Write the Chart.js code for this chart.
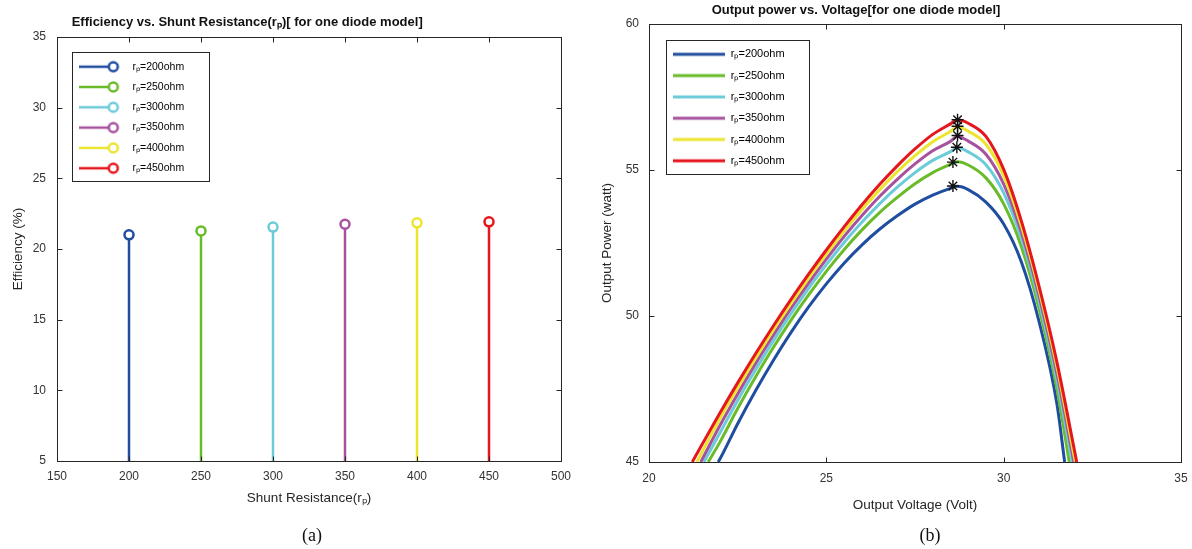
<!DOCTYPE html>
<html><head><meta charset="utf-8">
<script src="https://cdn.jsdelivr.net/npm/chart.js@4/dist/chart.umd.min.js"></script>
<style>
html,body{margin:0;padding:0;background:#fff;}
#wrap{position:relative;width:1192px;height:549px;overflow:hidden;background:#fff;}
.box{position:absolute;top:0;height:549px;width:596px;}
#boxA{left:0;}
#boxB{left:596px;}
.cap{position:absolute;top:524px;line-height:22px;font-family:"Liberation Serif","Times New Roman",serif;font-size:18px;color:#111;transform:translateX(-50%);}
</style></head>
<body><div id="wrap">
<div class="box" id="boxA"><canvas id="cA"></canvas></div>
<div class="box" id="boxB"><canvas id="cB"></canvas></div>
<div class="cap" style="left:312px">(a)</div>
<div class="cap" style="left:930px">(b)</div>
</div>
<script>
// ---------- data ----------
const seriesLabels = ['rₚ=200ohm','rₚ=250ohm','rₚ=300ohm','rₚ=350ohm','rₚ=400ohm','rₚ=450ohm'];
const seriesColors = ['#1f4d9f','#6abb2a','#6ccbd9','#a6529f','#ece530','#e5171d'];

// (a) efficiency stems
const shuntR = [200, 250, 300, 350, 400, 450];
const efficiency = [21.0, 21.28, 21.55, 21.75, 21.85, 21.92];
const stemBase = 5;
const xTicksA = [150, 200, 250, 300, 350, 400, 450, 500];
const yTicksA = [5, 10, 15, 20, 25, 30, 35];

// (b) P-V curves
const volts = [22, 22.5, 23, 23.5, 24, 24.5, 25, 25.5, 26, 26.5, 27, 27.5, 28, 28.5, 28.7, 29, 29.5, 30, 30.5, 31, 31.5];
const p200 = [45.10, 46.31, 47.43, 48.47, 49.43, 50.31, 51.10, 51.81, 52.43, 52.97, 53.43, 53.83, 54.14, 54.37, 54.44, 54.33, 53.90, 53.15, 51.85, 49.80, 47.00];
const p250 = [45.68, 46.83, 47.90, 48.91, 49.85, 50.72, 51.53, 52.27, 52.94, 53.54, 54.06, 54.53, 54.91, 55.19, 55.28, 55.17, 54.73, 53.84, 52.37, 50.25, 47.53];
const p300 = [46.00, 47.11, 48.15, 49.14, 50.07, 50.95, 51.76, 52.52, 53.21, 53.84, 54.41, 54.91, 55.33, 55.63, 55.77, 55.62, 55.18, 54.22, 52.65, 50.49, 47.82];
const p350 = [46.25, 47.33, 48.36, 49.33, 50.26, 51.13, 51.95, 52.72, 53.43, 54.09, 54.68, 55.21, 55.66, 55.98, 56.15, 55.99, 55.54, 54.52, 52.87, 50.68, 48.04];
const p400 = [46.49, 47.54, 48.55, 49.51, 50.42, 51.30, 52.12, 52.90, 53.64, 54.32, 54.94, 55.49, 55.97, 56.32, 56.48, 56.33, 55.88, 54.80, 53.08, 50.87, 48.26];
const p450 = [46.68, 47.71, 48.70, 49.65, 50.56, 51.43, 52.26, 53.05, 53.80, 54.50, 55.14, 55.72, 56.22, 56.58, 56.72, 56.60, 56.15, 55.02, 53.25, 51.01, 48.43];
const powerSeries = [p200, p250, p300, p350, p400, p450];
const startV = [21.95, 21.67, 21.55, 21.46, 21.35, 21.22];
const endV = [31.72, 31.85, 31.93, 31.98, 32.02, 32.06];
const edgeP = 45;
const peakV = [28.57, 28.57, 28.68, 28.7, 28.7, 28.7];
const peakP = [54.45, 55.27, 55.78, 56.18, 56.5, 56.72];
const xTicksB = [20, 25, 30, 35];
const yTicksB = [45, 50, 55, 60];

// ---------- helpers ----------
const FONT = "'Liberation Sans', Arial, Helvetica, sans-serif";
const AX = '#262626';

function stemIcon(color) {
  const c = document.createElement('canvas'); c.width = 48; c.height = 14;
  const g = c.getContext('2d');
  g.strokeStyle = color; g.lineWidth = 2.5;
  g.beginPath(); g.moveTo(0, 7); g.lineTo(30, 7); g.stroke();
  g.beginPath(); g.arc(34, 7, 4.5, 0, Math.PI * 2); g.fillStyle = '#fff'; g.fill(); g.stroke();
  return c;
}
function lineIcon(color) {
  const c = document.createElement('canvas'); c.width = 52; c.height = 6;
  const g = c.getContext('2d');
  g.strokeStyle = color; g.lineWidth = 3;
  g.beginPath(); g.moveTo(0, 3); g.lineTo(52, 3); g.stroke();
  return c;
}

const framePlugin = {
  id: 'matlabFrame',
  afterDatasetsDraw(chart) {
    const {ctx, chartArea: a, scales} = chart;
    ctx.save();
    ctx.strokeStyle = AX; ctx.lineWidth = 1;
    const L = Math.round(a.left) + 0.5, T = Math.round(a.top) + 0.5, R = Math.round(a.right) + 0.5, B = Math.round(a.bottom) + 0.5;
    ctx.strokeRect(L, T, R - L, B - T);
    const tl = 5;
    ctx.beginPath();
    scales.x.ticks.forEach(t => {
      const px = Math.round(scales.x.getPixelForValue(t.value)) + 0.5;
      ctx.moveTo(px, B); ctx.lineTo(px, B - tl);
      ctx.moveTo(px, T); ctx.lineTo(px, T + tl);
    });
    scales.y.ticks.forEach(t => {
      const py = Math.round(scales.y.getPixelForValue(t.value)) + 0.5;
      ctx.moveTo(L, py); ctx.lineTo(L + tl, py);
      ctx.moveTo(R, py); ctx.lineTo(R - tl, py);
    });
    ctx.stroke();
    ctx.restore();
  }
};

const placePlugin = {
  id: 'place',
  afterLayout(chart, args, o) {
    const lg = chart.legend, a = chart.chartArea;
    if (lg) {
      const dx = a.left + o.dx - lg.left, dy = a.top + o.dy - lg.top;
      lg.left += dx; lg.right += dx; lg.top += dy; lg.bottom += dy;
    }
    const tb = chart.titleBlock;
    if (tb && o.titleX != null) { const d = o.titleX - tb.left; tb.left += d; tb.right += d; }
  },
  afterDraw(chart, args, o) {
    const lg = chart.legend; if (!lg) return;
    const ctx = chart.ctx;
    const P = o.pad, fs = o.fs, bw = o.bw;
    const n = lg.legendItems.length;
    ctx.save();
    ctx.font = fs + 'px ' + FONT;
    let tw = 0; lg.legendItems.forEach(it => { tw = Math.max(tw, ctx.measureText(it.text).width); });
    const x0 = lg.left + P - o.padL;
    const c0 = lg.top + P + fs / 2;
    const cN = c0 + (n - 1) * (fs + P);
    const y0 = c0 - o.padT, y1 = cN + o.padB;
    const x1 = lg.left + P + bw + fs / 2 + tw + o.padR;
    ctx.strokeStyle = AX; ctx.lineWidth = 1;
    ctx.strokeRect(Math.round(x0) + 0.5, Math.round(y0) + 0.5, Math.round(x1 - x0), Math.round(y1 - y0));
    ctx.restore();
  }
};

function axis(ticksArr, min, max, extra) {
  return Object.assign({
    type: 'linear', min, max,
    afterBuildTicks: s => { s.ticks = ticksArr.map(v => ({value: v})); },
    grid: {display: false, drawTicks: false},
    border: {display: false},
    ticks: {color: '#333', font: {family: FONT, size: 12}, maxRotation: 0, autoSkip: false}
  }, extra);
}

// ---------- chart (a) ----------
const iconsA = seriesColors.map(stemIcon);
new Chart(document.getElementById('cA'), {
  type: 'scatter',
  data: {
    datasets: shuntR.map((r, i) => ({
      label: seriesLabels[i],
      data: [{x: r, y: stemBase}, {x: r, y: efficiency[i]}],
      showLine: true,
      borderColor: seriesColors[i], borderWidth: 2.5,
      pointRadius: [0, 4.5], pointBorderWidth: 2.5,
      pointBackgroundColor: '#fff', pointBorderColor: seriesColors[i],
      pointStyle: 'circle'
    }))
  },
  options: {
    responsive: true, maintainAspectRatio: false, animation: false, events: [],
    layout: {padding: {left: 0, right: 35, top: 0, bottom: 0}},
    scales: {
      x: axis(xTicksA, 150, 500, {
        afterFit: s => { s.height = 88; s.paddingLeft = 0; s.paddingRight = 0; },
        ticks: {padding: 8, color: '#333', font: {family: FONT, size: 12}, maxRotation: 0, autoSkip: false},
        title: {display: true, text: 'Shunt Resistance(rₚ)', color: '#262626', font: {family: FONT, size: 13.5}, padding: {top: 0, bottom: 42.9}}
      }),
      y: axis(yTicksA, 5, 35, {
        afterFit: s => { s.width = 57; },
        ticks: {padding: 11, color: '#333', font: {family: FONT, size: 12}, autoSkip: false},
        title: {display: true, text: 'Efficiency (%)', color: '#262626', font: {family: FONT, size: 13.5}, padding: {top: 9.9, bottom: 0}}
      })
    },
    plugins: {
      title: {display: true, text: 'Efficiency vs. Shunt Resistance(rₚ)[ for one diode model]', align: 'start', color: '#111',
        font: {family: FONT, size: 13, weight: 'bold'}, padding: {top: 14.7, bottom: 6.7}},
      legend: {
        position: 'chartArea', align: 'start',
        labels: {
          usePointStyle: true, pointStyleWidth: 48, padding: 9.8, color: '#1a1a1a',
          font: {family: FONT, size: 10.5},
          generateLabels: chart => chart.data.datasets.map((ds, i) => ({
            text: ds.label, pointStyle: iconsA[i], fillStyle: ds.borderColor, strokeStyle: ds.borderColor,
            lineWidth: 0, hidden: false, datasetIndex: i
          }))
        }
      },
      tooltip: {enabled: false},
      place: {dx: 12.5, dy: 14.65, titleX: 71.7, pad: 9.8, fs: 10.5, bw: 48, padL: 7.6, padT: 14.4, padB: 13.4, padR: 25}
    }
  },
  plugins: [framePlugin, placePlugin]
});

// ---------- chart (b) ----------
const iconsB = seriesColors.map(lineIcon);
const curveSets = powerSeries.map((ps, i) => ({
  label: seriesLabels[i],
  data: [{x: startV[i], y: edgeP}].concat(volts.map((v, j) => ({x: v, y: ps[j]}))).concat([{x: endV[i], y: edgeP}]),
  showLine: true, borderColor: seriesColors[i], borderWidth: 3,
  pointRadius: 0, cubicInterpolationMode: 'monotone', fill: false,
  order: 10 - i
}));
const peakSet = {
  label: 'peaks', isPeaks: true,
  data: peakV.map((v, i) => ({x: v, y: peakP[i]})),
  showLine: false, pointStyle: 'star', pointRadius: 6,
  pointBorderColor: '#111', pointBackgroundColor: '#111', pointBorderWidth: 1.4,
  borderColor: '#111', order: -1
};
new Chart(document.getElementById('cB'), {
  type: 'scatter',
  data: {datasets: curveSets.concat([peakSet])},
  options: {
    responsive: true, maintainAspectRatio: false, animation: false, events: [],
    layout: {padding: {left: 0, right: 11, top: 0, bottom: 0}},
    scales: {
      x: axis(xTicksB, 20, 35, {
        afterFit: s => { s.height = 87; s.paddingLeft = 0; s.paddingRight = 0; },
        ticks: {padding: 9, color: '#333', font: {family: FONT, size: 12}, maxRotation: 0, autoSkip: false},
        title: {display: true, text: 'Output Voltage (Volt)', color: '#262626', font: {family: FONT, size: 13.5}, padding: {top: 0, bottom: 35.9}}
      }),
      y: axis(yTicksB, 45, 60, {
        afterFit: s => { s.width = 53; },
        ticks: {padding: 10, color: '#333', font: {family: FONT, size: 12}, autoSkip: false},
        title: {display: true, text: 'Output Power (watt)', color: '#262626', font: {family: FONT, size: 13.5}, padding: {top: 2.9, bottom: 0}}
      })
    },
    plugins: {
      title: {display: true, text: 'Output power vs. Voltage[for one diode model]', align: 'start', color: '#111',
        font: {family: FONT, size: 13, weight: 'bold'}, padding: {top: 3, bottom: 5.4}},
      legend: {
        position: 'chartArea', align: 'start',
        labels: {
          usePointStyle: true, pointStyleWidth: 52, padding: 10.3, color: '#1a1a1a',
          font: {family: FONT, size: 11},
          generateLabels: chart => chart.data.datasets.filter(ds => !ds.isPeaks).map((ds, i) => ({
            text: ds.label, pointStyle: iconsB[i], fillStyle: ds.borderColor, strokeStyle: ds.borderColor,
            lineWidth: 0, hidden: false, datasetIndex: i
          }))
        }
      },
      tooltip: {enabled: false},
      place: {dx: 14, dy: 14.5, titleX: 115.7, pad: 10.3, fs: 11, bw: 52, padL: 7.6, padT: 14.3, padB: 13.3, padR: 24}
    }
  },
  plugins: [framePlugin, placePlugin]
});
</script>
</body></html>
